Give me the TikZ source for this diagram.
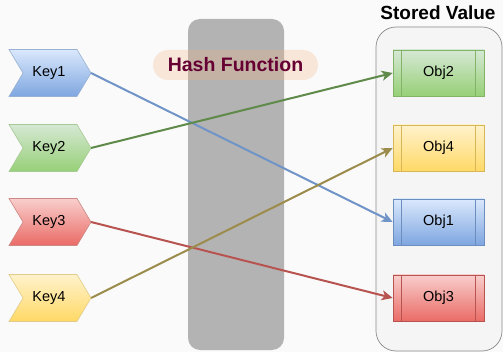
\documentclass[tikz,border=0pt]{standalone}
\usepackage{fontspec}
\setmainfont{Liberation Sans}
\usetikzlibrary{arrows.meta}
\definecolor{bluetop}{HTML}{DAE8FC}\definecolor{bluebot}{HTML}{7EA6E0}\definecolor{bluestroke}{HTML}{6C8EBF}
\definecolor{greentop}{HTML}{D5E8D4}\definecolor{greenbot}{HTML}{97D077}\definecolor{greenstroke}{HTML}{82B366}
\definecolor{redtop}{HTML}{F8CECC}\definecolor{redbot}{HTML}{EA6B66}\definecolor{redstroke}{HTML}{B85450}
\definecolor{yeltop}{HTML}{FFF2CC}\definecolor{yelbot}{HTML}{FFD966}\definecolor{yelstroke}{HTML}{D6B656}
\definecolor{blueline}{HTML}{7094C8}\definecolor{greenline}{HTML}{5F8A4A}
\definecolor{redline}{HTML}{B85450}\definecolor{yelline}{HTML}{9C8C4C}
\definecolor{hashgray}{HTML}{B3B3B3}
\definecolor{pill}{HTML}{F4B581}\definecolor{maroon}{HTML}{660033}
\definecolor{contfill}{HTML}{F5F5F5}\definecolor{contedge}{HTML}{8A8A8A}
\definecolor{bg}{HTML}{FAFAFA}
\newcommand\keychev[6]{%
  \begin{scope}[shift={(0,#2)}]
    \path[draw=#5!70!white, line width=0.6pt, top color=#3, bottom color=#4]
      (9,-23.5) -- (77,-23.5) -- (91,0) -- (77,23.5) -- (9,23.5) -- (23,0) -- cycle;
    \node[lbl] (#1) at (49,0) {#6};
    \coordinate (#1t) at (91,0);
  \end{scope}}
\newcommand\objbox[6]{%
  \node[objstyle, draw=#5, top color=#3, bottom color=#4] (#1) at (438.5,#2) {#6};
  \draw[#5, line width=0.6pt] ([xshift=9pt]#1.north west) -- ([xshift=9pt]#1.south west)
    ([xshift=-9pt]#1.north east) -- ([xshift=-9pt]#1.south east);}
\begin{document}
\begin{tikzpicture}[x=1pt,y=-1pt,
  lbl/.style={font=\fontsize{14.5}{17}\selectfont, inner sep=0pt},
  objstyle/.style={lbl, line width=0.6pt, minimum width=91pt, minimum height=46pt, inner sep=0pt},
  conn/.style={line width=2pt, -{Stealth[length=11pt,width=10pt,inset=3pt]}}]
\useasboundingbox (0,0) rectangle (503,352);
\fill[bg] (0,0) rectangle (503,352);
% container
\draw[fill=contfill, draw=contedge, line width=0.7pt, rounded corners=20pt] (376,27) rectangle (502,351);
\node[font=\fontsize{19}{22}\selectfont\bfseries, inner sep=0pt] (title) at (438,13) {Stored Value};
% hash block
\fill[hashgray, rounded corners=12pt] (188,19) rectangle (284,350);
% keys
\keychev{key1}{73}{bluetop}{bluebot}{bluestroke}{Key1}
\keychev{key2}{148}{greentop}{greenbot}{greenstroke}{Key2}
\keychev{key3}{222}{redtop}{redbot}{redstroke}{Key3}
\keychev{key4}{298}{yeltop}{yelbot}{yelstroke}{Key4}
% objects
\objbox{obj2}{73}{greentop}{greenbot}{greenstroke}{Obj2}
\objbox{obj4}{148}{yeltop}{yelbot}{yelstroke}{Obj4}
\objbox{obj1}{222}{bluetop}{bluebot}{bluestroke}{Obj1}
\objbox{obj3}{298}{redtop}{redbot}{redstroke}{Obj3}
% connectors
\draw[conn, blueline] (key1t) -- (obj1.west);
\draw[conn, greenline] (key2t) -- (obj2.west);
\draw[conn, redline] (key3t) -- (obj3.west);
\draw[conn, yelline] (key4t) -- (obj4.west);
% hash label
\node[fill=pill, fill opacity=0.27, text opacity=1, rounded corners=15pt, minimum width=165pt, minimum height=30pt, inner sep=0pt,
      font=\fontsize{19.5}{22}\selectfont\bfseries, text=maroon] (hash) at (235.5,65) {Hash Function};
\end{tikzpicture}
\end{document}
